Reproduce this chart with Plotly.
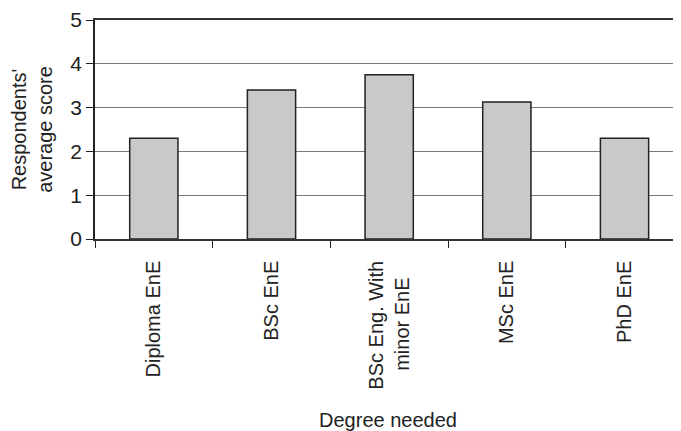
import plotly.graph_objects as go

categories = ["Diploma EnE", "BSc EnE", "BSc Eng. With<br>minor EnE\u00a0\u00a0\u00a0", "MSc EnE", "PhD EnE"]
scores = [2.30, 3.40, 3.75, 3.13, 2.30]
y_ticks = [0, 1, 2, 3, 4, 5]

FONT = "Liberation Sans, Arial, sans-serif"

fig = go.Figure()
fig.add_trace(go.Bar(
    x=categories,
    y=scores,
    width=0.41,
    marker=dict(color="#c8c9cb", line=dict(color="#222222", width=1.5)),
))

# the page body has an 8px margin, so the figure is sized to fill the rest of the window
fig.update_layout(
    width=673,
    height=423,
    margin=dict(l=87, r=0, t=12, b=192),
    paper_bgcolor="white",
    plot_bgcolor="white",
    showlegend=False,
    font=dict(family=FONT, size=20, color="#222222"),
    xaxis=dict(
        range=[-0.5, 4.48],
        automargin=False,
        tickangle=-90,
        ticks="outside",
        tickson="boundaries",
        ticklen=7,
        tickcolor="#222222",
        showline=True,
        linecolor="#333333",
        linewidth=1.5,
        mirror=True,
        showgrid=False,
        ticklabelstandoff=12,
        tickfont=dict(size=20),
        title=dict(text="Degree needed", font=dict(size=20), standoff=27),
    ),
    yaxis=dict(
        range=[0, 5],
        automargin=False,
        tickvals=y_ticks,
        ticks="outside",
        ticklen=7,
        tickcolor="#222222",
        showline=True,
        linecolor="#222222",
        linewidth=1.5,
        showgrid=True,
        gridcolor="#7a7a7a",
        gridwidth=1,
        zeroline=False,
        tickfont=dict(size=21),
        title=dict(text="Respondents'<br>average score", font=dict(size=20), standoff=17),
    ),
)

fig.write_html("out.html")
